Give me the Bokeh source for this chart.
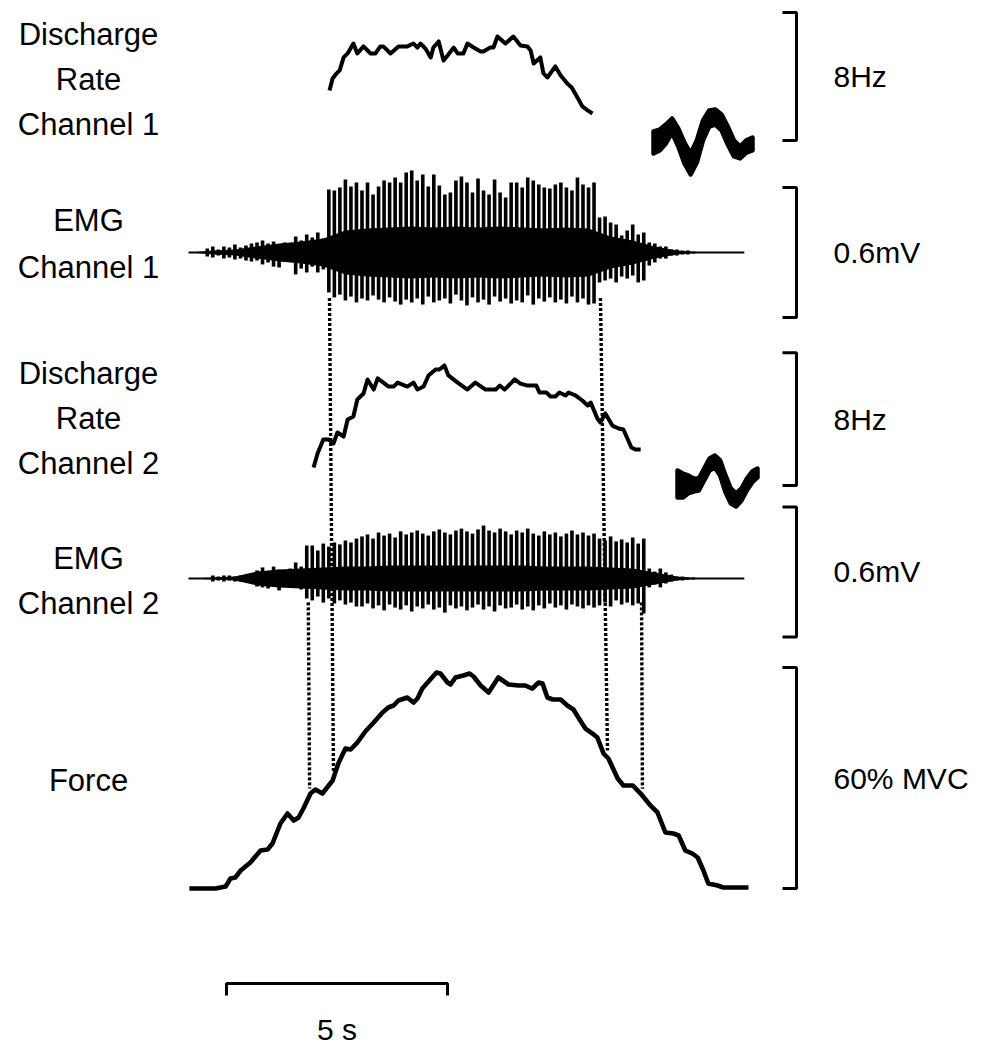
import numpy as np
from bokeh.plotting import figure
from bokeh.models import Range1d
from bokeh.core.properties import value
from bokeh.embed import file_html
from bokeh.resources import INLINE

# ---------------- DATA ----------------
# Discharge rate, channel 1 (time s, rate Hz)
dr1_t = [3.19, 3.26, 3.33, 3.42, 3.51, 3.60, 3.73, 3.82, 3.96, 4.12, 4.23, 4.34, 4.41,
         4.57, 4.75, 4.95, 5.09, 5.18, 5.25, 5.36, 5.48, 5.54, 5.66, 5.77, 5.88, 6.00,
         6.09, 6.22, 6.31, 6.45, 6.61, 6.67, 6.83, 6.90, 6.99, 7.17, 7.35, 7.51, 7.67,
         7.74, 7.81, 7.96, 8.03, 8.12, 8.30, 8.42, 8.57, 8.67, 8.80, 8.91, 9.03, 9.14]
dr1_hz = [11.13, 11.88, 12.13, 12.38, 13.19, 13.44, 14.06, 13.44, 13.88, 13.44, 13.44,
          13.88, 13.88, 13.44, 13.88, 13.88, 14.06, 13.81, 14.06, 13.75, 13.19, 13.81,
          14.19, 13.00, 13.38, 13.81, 13.44, 13.44, 14.06, 13.81, 13.56, 13.56, 13.81,
          13.81, 14.50, 14.06, 14.50, 13.94, 13.88, 13.63, 12.81, 13.19, 12.19, 11.94,
          12.63, 12.06, 11.56, 11.31, 10.69, 10.13, 9.88, 9.69]

# Discharge rate, channel 2
dr2_t = [2.83, 2.92, 3.05, 3.17, 3.28, 3.37, 3.51, 3.60, 3.73, 3.82, 3.96, 4.05, 4.19,
         4.28, 4.41, 4.52, 4.64, 4.73, 4.84, 4.95, 5.09, 5.18, 5.32, 5.43, 5.59, 5.68,
         5.79, 5.88, 6.09, 6.31, 6.49, 6.72, 6.95, 7.04, 7.15, 7.38, 7.51, 7.67, 7.87,
         7.94, 8.10, 8.19, 8.30, 8.39, 8.53, 8.60, 8.76, 8.91, 9.03, 9.10, 9.25, 9.32,
         9.43, 9.59, 9.73, 9.84, 10.02, 10.11, 10.23]
dr2_hz = [9.08, 9.93, 10.77, 10.77, 10.53, 11.19, 10.95, 11.98, 12.16, 13.18, 13.54,
          14.39, 13.78, 14.45, 14.20, 13.96, 13.96, 14.20, 14.08, 13.96, 14.20, 13.78,
          13.96, 14.63, 14.99, 14.99, 15.23, 14.63, 14.20, 13.78, 14.20, 13.78, 13.78,
          14.02, 13.78, 14.39, 14.14, 14.02, 14.02, 13.60, 13.60, 13.36, 13.36, 13.60,
          13.42, 13.60, 13.42, 13.12, 12.82, 13.00, 12.04, 11.80, 12.34, 11.61, 11.43,
          11.37, 10.29, 10.17, 10.17]

# EMG: one spike every 0.125 s starting at 0.05 s; positive / negative peak (mV)
emg_t0 = 0.05
emg_dt = 0.125
emg1_pos = [0, 0, 0,
            0.018, 0.028, 0.014, 0.028, 0.023, 0.037, 0.023, 0.032, 0.041,
            0.046, 0.055, 0.041, 0.051, 0.037, 0.046, 0.032, 0.074, 0.055, 0.083, 0.069, 0.092, 0.065,
            0.29, 0.286, 0.3, 0.336, 0.304, 0.323, 0.286, 0.323, 0.267, 0.304,
            0.332, 0.323, 0.346, 0.323, 0.369, 0.378, 0.332, 0.359, 0.304, 0.359,
            0.309, 0.267, 0.276, 0.332, 0.35, 0.323, 0.276, 0.341, 0.286, 0.267,
            0.336, 0.276, 0.253, 0.323, 0.323, 0.3, 0.346, 0.332, 0.313, 0.3,
            0.295, 0.313, 0.323, 0.3, 0.286, 0.346, 0.313, 0.3, 0.323,
            0.161, 0.166, 0.138, 0.129, 0.078, 0.101, 0.129, 0.083, 0.092,
            0.046, 0.041, 0.028, 0.028, 0.014, 0.014, 0.009, 0.009, 0.005,
            0, 0, 0, 0, 0, 0, 0, 0]
emg1_neg = [0, 0, 0,
            0.018, 0.023, 0.014, 0.028, 0.023, 0.032, 0.028, 0.037, 0.041,
            0.037, 0.055, 0.046, 0.065, 0.069, 0.041, 0.037, 0.101, 0.074, 0.092, 0.065, 0.092, 0.078,
            0.184, 0.207, 0.194, 0.221, 0.203, 0.23, 0.212, 0.221, 0.198, 0.217,
            0.23, 0.207, 0.226, 0.24, 0.217, 0.23, 0.212, 0.24, 0.203, 0.23,
            0.221, 0.212, 0.235, 0.194, 0.221, 0.244, 0.207, 0.23, 0.217, 0.24,
            0.203, 0.226, 0.212, 0.235, 0.221, 0.23, 0.198, 0.24, 0.212, 0.226,
            0.207, 0.23, 0.217, 0.235, 0.203, 0.23, 0.212, 0.24, 0.235,
            0.138, 0.129, 0.12, 0.138, 0.111, 0.12, 0.106, 0.138, 0.129,
            0.06, 0.046, 0.028, 0.028, 0.014, 0.014, 0.009, 0.009, 0.005,
            0, 0, 0, 0, 0, 0, 0, 0]
# dense interference core half-amplitude (mV), one value every 0.5 s
core_dt = 0.5
emg1_core = [0, 0.009, 0.014, 0.028, 0.041, 0.051, 0.065, 0.101, 0.111, 0.115, 0.12, 0.115,
             0.12, 0.115, 0.12, 0.115, 0.111, 0.115, 0.111, 0.074, 0.055, 0.028, 0.009, 0, 0, 0]

emg2_pos = [0, 0, 0, 0,
            0.014, 0.009, 0.014, 0.014, 0.009, 0.014, 0.009, 0.014,
            0.037, 0.051, 0.028, 0.055, 0.041, 0.032, 0.046, 0.074, 0.055,
            0.152, 0.152, 0.129, 0.161, 0.147, 0.166, 0.157, 0.175, 0.166, 0.184,
            0.194, 0.203, 0.184, 0.212, 0.198, 0.207, 0.189, 0.217, 0.203, 0.212,
            0.221, 0.207, 0.198, 0.217, 0.226, 0.212, 0.203, 0.221, 0.23, 0.217,
            0.207, 0.226, 0.244, 0.221, 0.212, 0.23, 0.217, 0.203, 0.221, 0.212,
            0.23, 0.207, 0.198, 0.217, 0.203, 0.212, 0.194, 0.207, 0.221, 0.203,
            0.212, 0.198, 0.207,
            0.184, 0.175, 0.194, 0.171, 0.18, 0.166, 0.189, 0.161, 0.184,
            0.046, 0.032, 0.046, 0.028, 0.018,
            0.009, 0.009, 0.005, 0.005,
            0, 0, 0, 0, 0, 0, 0, 0]
emg2_neg = [0, 0, 0, 0,
            0.014, 0.009, 0.014, 0.009, 0.014, 0.014, 0.009, 0.014,
            0.037, 0.041, 0.046, 0.032, 0.055, 0.037, 0.028, 0.041, 0.051,
            0.092, 0.101, 0.083, 0.111, 0.092, 0.115, 0.101, 0.12, 0.111, 0.129,
            0.129, 0.115, 0.138, 0.124, 0.147, 0.12, 0.134, 0.143, 0.124, 0.152,
            0.129, 0.138, 0.12, 0.143, 0.134, 0.157, 0.124, 0.138, 0.129, 0.147,
            0.134, 0.12, 0.143, 0.129, 0.152, 0.124, 0.138, 0.134, 0.12, 0.143,
            0.129, 0.147, 0.124, 0.138, 0.115, 0.134, 0.124, 0.143, 0.12, 0.129,
            0.138, 0.124, 0.134,
            0.124, 0.111, 0.129, 0.101, 0.12, 0.111, 0.124, 0.115, 0.161,
            0.041, 0.028, 0.041, 0.023, 0.014,
            0.009, 0.009, 0.005, 0.005,
            0, 0, 0, 0, 0, 0, 0, 0]
emg2_core = [0, 0.005, 0.009, 0.032, 0.041, 0.046, 0.051, 0.055, 0.055, 0.06, 0.06, 0.06,
             0.06, 0.06, 0.06, 0.06, 0.055, 0.055, 0.055, 0.051, 0.046, 0.028, 0.009, 0, 0, 0]

# Force (% MVC)
force_t = [0.02, 0.27, 0.61, 0.84, 0.95, 1.06, 1.18, 1.40, 1.63, 1.79, 1.90, 2.08, 2.24,
           2.38, 2.49, 2.60, 2.76, 2.87, 3.03, 3.26, 3.39, 3.55, 3.67, 3.82, 4.00, 4.19,
           4.39, 4.52, 4.64, 4.75, 4.95, 5.09, 5.18, 5.29, 5.43, 5.61, 5.70, 5.86, 5.93,
           6.04, 6.22, 6.36, 6.45, 6.61, 6.79, 7.01, 7.24, 7.47, 7.62, 7.78, 7.92, 8.01,
           8.12, 8.24, 8.42, 8.57, 8.71, 8.82, 8.98, 9.14, 9.25, 9.39, 9.50, 9.71, 9.84,
           10.05, 10.23, 10.45, 10.61, 10.79, 10.97, 11.09, 11.24, 11.40, 11.52, 11.65,
           11.76, 11.97, 12.10, 12.42, 12.67]
force_pct = [0, 0, 0, 0.54, 2.72, 2.99, 4.89, 7.06, 10.32, 10.59, 12.22, 17.65, 20.36,
             18.46, 19.28, 21.72, 25.79, 26.88, 25.79, 29.32, 33.94, 38.01, 37.74, 39.64,
             42.63, 45.07, 47.79, 49.14, 49.69, 51.05, 51.86, 50.5, 51.59, 54.3, 56.2,
             58.65, 58.38, 55.93, 55.39, 57.29, 57.83, 58.38, 57.56, 55.12, 53.22, 57.29,
             55.39, 55.12, 55.12, 54.3, 55.93, 55.66, 51.86, 51.32, 51.32, 49.69, 48.6,
             46.43, 43.44, 42.08, 41.0, 36.66, 35.3, 29.87, 27.97, 27.97, 25.79, 22.54,
             20.64, 15.2, 14.93, 14.39, 10.32, 9.5, 8.42, 4.89, 1.36, 0.81, 0.27, 0.27, 0.27]

# Motor unit action potential templates (upper / lower edge of overlaid spikes, mV)
muap1_upper = [0.046, 0.055, 0.078, 0.106, 0.06, -0.005, -0.055, 0.005, 0.097, 0.143,
               0.147, 0.124, 0.069, 0.005, -0.023, 0.005, 0.018]
muap1_lower = [-0.055, -0.041, -0.009, 0.041, -0.023, -0.101, -0.152, -0.097, 0.005,
               0.069, 0.078, 0.051, -0.014, -0.069, -0.078, -0.051, -0.041]
muap2_upper = [0.06, 0.046, 0.037, 0.023, 0.023, 0.069, 0.115, 0.129, 0.106, 0.037,
               -0.023, -0.046, -0.023, 0.023, 0.055, 0.069]
muap2_lower = [-0.065, -0.065, -0.046, -0.037, -0.032, 0.014, 0.06, 0.074, 0.037, -0.041,
               -0.092, -0.106, -0.078, -0.032, 0.005, 0.028]

# Recruitment / derecruitment markers (s): top end, bottom end
mark_t_top = [3.19, 9.32, 2.71, 10.25]
mark_t_bot = [3.28, 9.48, 2.74, 10.27]
mark_chan = ["emg1", "emg1", "emg2", "emg2"]

left_labels = [["Discharge", "Rate", "Channel 1"], ["EMG", "Channel 1"],
               ["Discharge", "Rate", "Channel 2"], ["EMG", "Channel 2"], ["Force"]]
scale_labels = ["8Hz", "0.6mV", "8Hz", "0.6mV", "60% MVC"]
scale_lo = [8, -0.3, 8, -0.27, 0]
scale_len = [8, 0.6, 8, 0.6, 60]
time_bar_s = 5
time_bar_label = "5 s"

# ---------------- LAYOUT ----------------
W, H = 984, 1045
PX_S = 44.2          # pixels per second
T0 = 188             # pixel of t = 0
def t_of(px):
    return (px - T0) / PX_S

# name: (pixel row of reference value, reference value, pixels per unit)
traces = {
    "dr1": (140, 8.0, 16.0),
    "emg1": (252, 0.0, 217.0),
    "dr2": (485, 8.0, 16.6),
    "emg2": (578, 0.0, 217.0),
    "force": (888, 0.0, 3.683),
}
def to_px(name, v):
    y0, v0, g = traces[name]
    return y0 - (np.asarray(v, dtype=float) - v0) * g

p = figure(width=W, height=H, x_range=Range1d(t_of(0), t_of(W)), y_range=Range1d(H, 0),
           output_backend="svg", toolbar_location=None, min_border=0,
           x_axis_type=None, y_axis_type=None, outline_line_color=None,
           background_fill_color="white", border_fill_color="white")
p.extra_y_ranges = {n: Range1d(start=v0 + (y0 - H) / g, end=v0 + y0 / g)
                    for n, (y0, v0, g) in traces.items()}

FONT = value("Liberation Sans")
FS = "30px"

# discharge rates
p.line(dr1_t, dr1_hz, y_range_name="dr1", line_width=4.0, color="black", line_join="round")
p.line(dr2_t, dr2_hz, y_range_name="dr2", line_width=4.0, color="black", line_join="round")

# EMGs
for name, pos, neg, core in [("emg1", emg1_pos, emg1_neg, emg1_core),
                             ("emg2", emg2_pos, emg2_neg, emg2_core)]:
    ts = emg_t0 + emg_dt * np.arange(len(pos))
    tc = emg_t0 + core_dt * np.arange(len(core))
    p.line([ts[0] - 0.05, ts[-1] + 0.15], [0, 0], y_range_name=name, line_width=1.8, color="black")
    p.varea(x=tc, y1=-np.array(core), y2=np.array(core), y_range_name=name, fill_color="black")
    p.segment(x0=ts, y0=-np.array(neg), x1=ts, y1=np.array(pos), y_range_name=name,
              line_width=3.6, color="black", line_cap="butt")

# force
p.line(force_t, force_pct, y_range_name="force", line_width=4.6, color="black", line_join="round")

# dotted markers
for tt, tb, ch in zip(mark_t_top, mark_t_bot, mark_chan):
    y_top = float(to_px(ch, -0.21 if ch == "emg1" else -0.11))
    y_bot = float(to_px("force", np.interp(tb, force_t, force_pct))) - 7
    p.line([tt, tb], [y_top, y_bot], line_width=3.4, color="black", line_dash="3 2")

# MUAP templates
for up, lo, x0, x1, yc in [(muap1_upper, muap1_lower, 653, 752, 141),
                           (muap2_upper, muap2_lower, 677, 757, 483)]:
    xs = list(t_of(np.linspace(x0, x1, len(up))))
    yu = list(yc - np.array(up) * 217.0)
    yl = list(yc - np.array(lo) * 217.0)
    p.patch(xs + xs[::-1], yu + yl[::-1], fill_color="black", line_color="black",
            line_width=4.5, line_join="round")

# scale brackets on the right
tb_bar, tb_tick = t_of(796), t_of(782)
for name, lo, ln, lab in zip(traces.keys(), scale_lo, scale_len, scale_labels):
    p.line([tb_tick, tb_bar, tb_bar, tb_tick], [lo + ln, lo + ln, lo, lo],
           y_range_name=name, line_width=3.0, color="black")
    ymid = float(to_px(name, lo + ln / 2))
    p.text(x=[t_of(833)], y=[ymid], text=[lab], text_font=FONT, text_font_size=FS,
           text_align="left", text_baseline="middle", text_color="black")

# left labels
label_rows = [[34, 79, 124], [220, 267], [373, 418, 463], [558, 603], [780]]
for lines, rows in zip(left_labels, label_rows):
    p.text(x=[t_of(88)] * len(lines), y=rows, text=lines, text_font=FONT, text_font_size="31px",
           text_align="center", text_baseline="middle", text_color="black")

# time scale bar
tsb = t_of(226)
p.line([tsb, tsb, tsb + time_bar_s, tsb + time_bar_s], [995, 983, 983, 995],
       line_width=3.0, color="black")
p.text(x=[tsb + time_bar_s / 2], y=[1029], text=[time_bar_label], text_font=FONT,
       text_font_size=FS, text_align="center", text_baseline="middle", text_color="black")

open("out.html", "w").write(file_html(p, INLINE))
